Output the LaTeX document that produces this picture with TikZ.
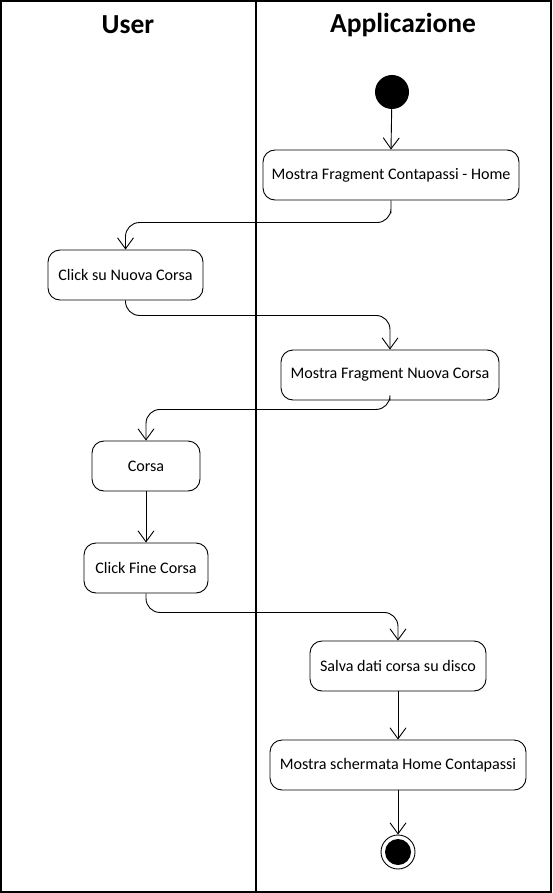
\documentclass[tikz,border=0pt]{standalone}
\usepackage{fontspec}
\setmainfont{Carlito}
\usetikzlibrary{arrows.meta,calc}
\begin{document}
\begin{tikzpicture}[x=1pt,y=-1pt,
  act/.style={draw,rounded corners=12pt,line width=0.9pt,minimum height=50pt,inner sep=0pt,font=\fontsize{16.1}{18}\selectfont},
  flow/.style={draw,line width=0.9pt,-{Straight Barb[length=11pt,width=16pt,line width=0.9pt]}},
  curv/.style={flow,rounded corners=14pt},
  head/.style={font=\fontsize{27.5}{30}\selectfont\bfseries}]
\useasboundingbox (0,0) rectangle (552,893);
\draw[line width=1.6pt] (1,1) rectangle (551,892);
\draw[line width=1.6pt] (256,1) -- (256,892);
\node[head] (hu) at (128,25) {User};
\node[head] (ha) at (403,25) {Applicazione};
\node[circle,fill=black,minimum size=34pt,inner sep=0pt] (start) at (392,92) {};
\node[act,minimum width=256pt] (m1) at (391,175) {Mostra Fragment Contapassi - Home};
\node[act,minimum width=155pt] (c1) at (125.5,275) {Click su Nuova Corsa};
\node[act,minimum width=218pt] (m2) at (390,375) {Mostra Fragment Nuova Corsa};
\node[act,minimum width=108pt] (co) at (146,466) {Corsa};
\node[act,minimum width=124pt] (cf) at (146,568) {Click Fine Corsa};
\node[act,minimum width=176pt] (sv) at (398,666) {Salva dati corsa su disco};
\node[act,minimum width=256pt] (ms) at (398,765) {Mostra schermata Home Contapassi};
\node[circle,draw,line width=0.9pt,minimum size=34pt,inner sep=0pt] (end) at (398,852) {};
\node[circle,fill=black,minimum size=26pt,inner sep=0pt] (endin) at (end) {};
\draw[flow] (start) -- (m1.north);
\draw[curv] (m1.south) -- ++(0,-1) |- ($(m1.south)!0.45!(c1.north)$) -| (c1.north);
\draw[curv] (c1.south) -- ++(0,15) -| (m2.north);
\draw[curv] (m2.south) -- ++(0,9) -| (co.north);
\draw[flow] (co) -- (cf);
\draw[curv] (cf.south) -- ++(0,19) -| (sv.north);
\draw[flow] (sv) -- (ms);
\draw[flow] (ms) -- (end);
\end{tikzpicture}
\end{document}
